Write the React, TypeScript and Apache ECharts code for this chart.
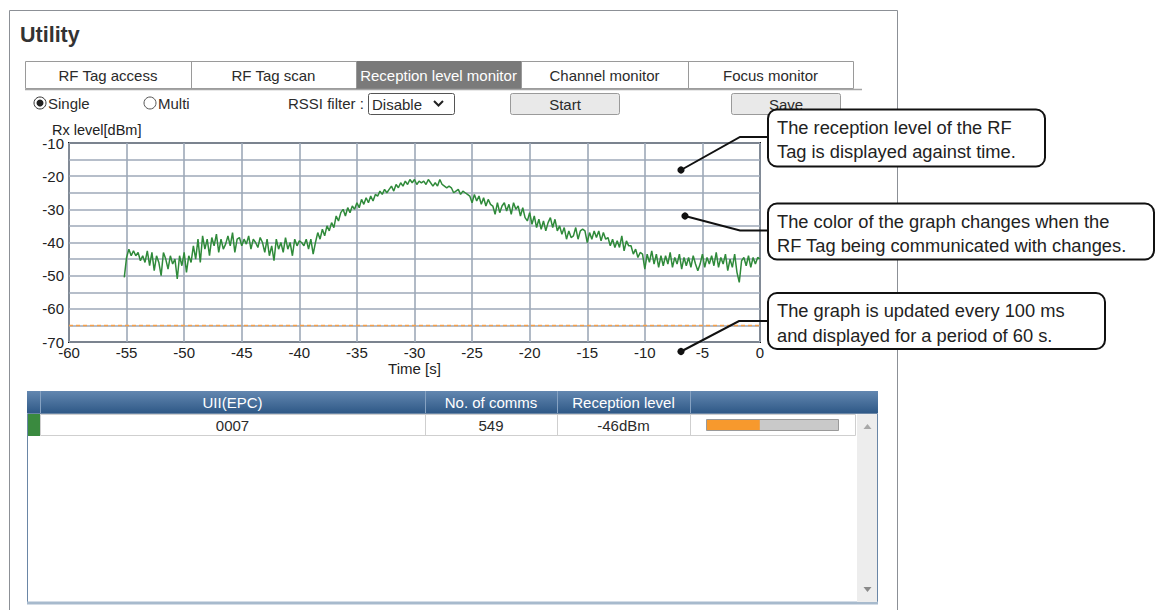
import { useEffect, useRef } from "react";
import * as echarts from "echarts";

// ---- data ----
const START_TIME = -55.2; // s, first sample
const STEP = 0.2; // s between plotted samples
const RX_LEVELS = [
  -50.5, -44.5, -42, -44, -42.5,
  -44, -43, -45.5, -44, -46,
  -42.5, -47, -43, -48.5, -44,
  -46, -50, -43, -45, -48,
  -44, -46.5, -45, -51, -44,
  -47, -43, -49, -44, -46,
  -41, -45, -39, -46, -38,
  -42, -39, -44, -38.5, -41,
  -37.5, -43, -39, -42, -40.5,
  -38, -41, -37, -43, -39,
  -38.5, -41, -39, -40.5, -38,
  -42, -39, -40, -41.5, -38.5,
  -40, -43, -39, -44, -41,
  -45.5, -39, -42, -40, -43,
  -38.5, -42, -40, -44, -39,
  -41, -39.5, -40, -41, -39,
  -42, -39, -43.5, -40, -37,
  -39, -36, -38, -35, -36.5,
  -34, -35.5, -32, -33.5, -31,
  -30, -32, -29.5, -31, -29,
  -30, -28, -29.5, -27, -28.5,
  -26.5, -28, -26, -27.5, -25.5,
  -26, -24.5, -25.5, -24, -25,
  -24, -23, -24.5, -22.5, -23.5,
  -22, -23, -21.5, -22.5, -21,
  -22, -21, -22.5, -21.5, -22,
  -21.5, -22.5, -21, -22, -23,
  -22, -23, -21, -22.5, -23,
  -23.5, -23, -23.5, -25, -24.5,
  -24, -25.5, -24.5, -25, -25.5,
  -26, -28, -25.5, -27.5, -26,
  -28.5, -26.5, -29, -27, -28.5,
  -29, -31.5, -28, -31, -29,
  -28, -30.5, -28.5, -31.5, -28,
  -30, -29, -32, -29.5, -32.5,
  -33.5, -31, -34.5, -32, -35.5,
  -33, -36, -33.5, -36.5, -34,
  -32.5, -35.5, -33, -36.5, -35,
  -37.5, -35.5, -39, -36.5, -38.5,
  -38, -35.5, -39, -36.5, -36,
  -36.5, -40, -37, -39, -36.5,
  -38.5, -36.5, -39.5, -37, -39,
  -38.5, -41, -39, -41.5, -39.5,
  -41.5, -38, -42.5, -39.5, -41,
  -41, -43.5, -42, -44.5, -43,
  -43.5, -48, -43.5, -46, -42.5,
  -46.5, -43.5, -47.5, -44, -47,
  -44, -46.5, -43, -47.5, -44.5,
  -46.5, -43.5, -48, -44.5, -47,
  -44.5, -47.5, -44, -46.5, -48.5,
  -46.5, -43.5, -47.5, -44.5, -46.5,
  -44, -47, -43, -47.5, -44.5,
  -46.5, -43.5, -48.5, -45, -47.5,
  -43.5, -49, -52, -45.5, -44.5,
  -47, -44, -47.5, -44.5, -46.5,
  -44.5, -45,
];
const THRESHOLD = -65; // dBm, dashed line
const X_MIN = -60;
const X_MAX = 0;
const Y_MIN = -70;
const Y_MAX = -10;

const TITLE = "Utility";
const Y_NAME = "Rx level[dBm]";
const X_NAME = "Time [s]";
const TABS = ["RF Tag access", "RF Tag scan", "Reception level monitor", "Channel monitor", "Focus monitor"];
const ACTIVE_TAB = 2;
const TABLE_HEADERS = ["UII(EPC)", "No. of comms", "Reception level"];
const ROW_UII = "0007";
const ROW_COMMS = 549;
const ROW_LEVEL = -46;
const CALLOUTS = [
  "The reception level of the RF\nTag is displayed against time.",
  "The color of the graph changes when the\nRF Tag being communicated with changes.",
  "The graph is updated every 100 ms\nand displayed for a period of 60 s.",
];

const FONT = 'Arial, "Liberation Sans", sans-serif';

export default function App() {
  const ref = useRef<HTMLDivElement>(null);

  useEffect(() => {
    if (!ref.current) return;
    const chart = echarts.init(ref.current, undefined, { renderer: "svg" });

    const points = RX_LEVELS.map((v, i) => [Math.round((START_TIME + i * STEP) * 10) / 10, v]);

    const txt = (text: string, x: number, y: number, extra: any = {}) => ({
      type: "text",
      x,
      y,
      z: extra.z ?? 10,
      style: {
        text,
        fill: extra.fill ?? "#2b2b2b",
        fontSize: extra.fontSize ?? 15,
        fontFamily: FONT,
        fontWeight: extra.fontWeight ?? "normal",
        align: extra.align ?? "left",
        verticalAlign: extra.verticalAlign ?? "middle",
        lineHeight: extra.lineHeight,
      },
    });

    const g: any[] = [];

    // panel
    g.push({ type: "rect", z: 1, shape: { x: 9.5, y: 10.5, width: 888, height: 700 }, style: { fill: "#fff", stroke: "#8c9096", lineWidth: 1 } });
    g.push(txt(TITLE, 20, 35, { fontSize: 21.5, fontWeight: "bold", fill: "#333" }));

    // tabs
    const tabX = [25, 191, 356, 521, 688, 853];
    g.push({ type: "rect", z: 5, shape: { x: 25.5, y: 61.5, width: 828, height: 27 }, style: { fill: "#fff", stroke: "#9a9a9a", lineWidth: 1 } });
    g.push({ type: "rect", z: 6, shape: { x: tabX[ACTIVE_TAB], y: 61, width: tabX[ACTIVE_TAB + 1] - tabX[ACTIVE_TAB], height: 28 }, style: { fill: "#7a7a7a" } });
    for (let i = 1; i < TABS.length; i++) {
      g.push({ type: "line", z: 6, shape: { x1: tabX[i] + 0.5, y1: 61, x2: tabX[i] + 0.5, y2: 88 }, style: { stroke: "#9a9a9a", lineWidth: 1 } });
    }
    TABS.forEach((t, i) => {
      g.push(txt(t, (tabX[i] + tabX[i + 1]) / 2, 75, { align: "center", fill: i === ACTIVE_TAB ? "#fff" : "#2b2b2b", fontSize: 15, z: 7 }));
    });
    g.push({ type: "line", z: 6, shape: { x1: 25, y1: 89.5, x2: 862, y2: 89.5 }, style: { stroke: "#a5a5a5", lineWidth: 1.5 } });

    // controls row
    g.push({ type: "circle", z: 6, shape: { cx: 40, cy: 103, r: 6 }, style: { fill: "#fff", stroke: "#333", lineWidth: 1 } });
    g.push({ type: "circle", z: 7, shape: { cx: 40, cy: 103, r: 3.5 }, style: { fill: "#222" } });
    g.push(txt("Single", 48, 103));
    g.push({ type: "circle", z: 6, shape: { cx: 150, cy: 103, r: 6 }, style: { fill: "#fff", stroke: "#555", lineWidth: 1 } });
    g.push(txt("Multi", 158, 103));
    g.push(txt("RSSI filter :", 288, 103));
    g.push({ type: "rect", z: 6, shape: { x: 368.5, y: 93.5, width: 86, height: 21, r: 2 }, style: { fill: "#fff", stroke: "#555", lineWidth: 1 } });
    g.push(txt("Disable", 372, 104));
    g.push({ type: "polyline", z: 7, shape: { points: [[434, 101], [438.5, 105.5], [443, 101]] }, style: { stroke: "#222", lineWidth: 2, fill: null } });
    g.push({ type: "rect", z: 6, shape: { x: 510.5, y: 93.5, width: 109, height: 21, r: 2 }, style: { fill: "#e9e9e9", stroke: "#9a9a9a", lineWidth: 1 } });
    g.push(txt("Start", 565, 104.5, { align: "center" }));
    g.push({ type: "rect", z: 6, shape: { x: 731.5, y: 93.5, width: 109, height: 21, r: 2 }, style: { fill: "#e9e9e9", stroke: "#9a9a9a", lineWidth: 1 } });
    g.push(txt("Save", 786, 104.5, { align: "center" }));

    // chart axis name (y)
    g.push(txt(Y_NAME, 52, 129.5, { fill: "#222", fontSize: 14.5, z: 30 }));

    // table
    const colX = [27, 40, 425, 557, 690, 878];
    g.push({ type: "rect", z: 5, shape: { x: 27.5, y: 413.5, width: 850, height: 189 }, style: { fill: "#fff", stroke: "#6a86a6", lineWidth: 1 } });
    g.push({ type: "line", z: 6, shape: { x1: 27, y1: 603, x2: 878, y2: 603 }, style: { stroke: "#a7bacd", lineWidth: 3 } });
    g.push({
      type: "rect", z: 6, shape: { x: 27, y: 391, width: 851, height: 22 },
      style: { fill: new echarts.graphic.LinearGradient(0, 0, 0, 1, [{ offset: 0, color: "#6387b0" }, { offset: 1, color: "#2f5987" }]) },
    });
    for (let i = 1; i < colX.length - 1; i++) {
      g.push({ type: "line", z: 7, shape: { x1: colX[i] + 0.5, y1: 391, x2: colX[i] + 0.5, y2: 413 }, style: { stroke: "#86a2c2", lineWidth: 1 } });
    }
    TABLE_HEADERS.forEach((h, i) => {
      g.push(txt(h, (colX[i + 1] + colX[i + 2]) / 2, 402.5, { align: "center", fill: "#fff", z: 8 }));
    });
    // row
    g.push({ type: "rect", z: 6, shape: { x: 28, y: 414, width: 12, height: 22 }, style: { fill: "#3a8a3f" } });
    g.push({ type: "rect", z: 6, shape: { x: 40.5, y: 414.5, width: 815, height: 21 }, style: { fill: "#fff", stroke: "#cfcfcf", lineWidth: 1 } });
    for (let i = 2; i < colX.length - 1; i++) {
      g.push({ type: "line", z: 7, shape: { x1: colX[i] + 0.5, y1: 414, x2: colX[i] + 0.5, y2: 436 }, style: { stroke: "#cfcfcf", lineWidth: 1 } });
    }
    g.push(txt(ROW_UII, (colX[1] + colX[2]) / 2, 425, { align: "center", z: 8 }));
    g.push(txt(String(ROW_COMMS), (colX[2] + colX[3]) / 2, 425, { align: "center", z: 8 }));
    g.push(txt(`${ROW_LEVEL}dBm`, (colX[3] + colX[4]) / 2, 425, { align: "center", z: 8 }));
    const barW = 132;
    const frac = (ROW_LEVEL - Y_MIN) / (Y_MAX - Y_MIN);
    g.push({ type: "rect", z: 7, shape: { x: 706.5, y: 419.5, width: barW, height: 11 }, style: { fill: "#c9c9c9", stroke: "#9a9a9a", lineWidth: 1 } });
    g.push({ type: "rect", z: 8, shape: { x: 707, y: 420, width: barW * frac, height: 10 }, style: { fill: "#f7992d" } });
    // scrollbar
    g.push({ type: "rect", z: 6, shape: { x: 857, y: 414, width: 20, height: 188 }, style: { fill: "#ededed" } });
    g.push({ type: "polygon", z: 7, shape: { points: [[863.5, 429], [867.5, 424], [871.5, 429]] }, style: { fill: "#a8a8a8" } });
    g.push({ type: "polygon", z: 7, shape: { points: [[863.5, 587], [867.5, 592], [871.5, 587]] }, style: { fill: "#8a8a8a" } });

    // callouts
    const boxes = [
      { x: 768, y: 109.5, w: 277, h: 57, dot: [681, 170], elbow: [740, 137] },
      { x: 768, y: 203.5, w: 386, h: 56, dot: [685, 216], elbow: [740, 230.5] },
      { x: 768, y: 293, w: 337, h: 56, dot: [681, 351.5], elbow: [739, 321] },
    ];
    boxes.forEach((b, i) => {
      g.push({ type: "polyline", z: 100, shape: { points: [b.dot, b.elbow, [b.x, b.elbow[1]]] }, style: { stroke: "#111", lineWidth: 2, fill: null } });
      g.push({ type: "circle", z: 101, shape: { cx: b.dot[0], cy: b.dot[1], r: 3.6 }, style: { fill: "#111" } });
      g.push({ type: "rect", z: 102, shape: { x: b.x, y: b.y, width: b.w, height: b.h, r: 9 }, style: { fill: "#fff", stroke: "#111", lineWidth: 2 } });
      g.push(txt(CALLOUTS[i], b.x + 9, b.y + 5.5, { verticalAlign: "top", fontSize: 18.3, lineHeight: 24.5, fill: "#222", z: 103 }));
    });

    chart.setOption({
      animation: false,
      backgroundColor: "#fff",
      grid: {
        left: 69, top: 143, width: 691, height: 199,
        show: true, borderColor: "#161616", borderWidth: 2, backgroundColor: "transparent", z: 20,
      },
      xAxis: {
        type: "value", min: X_MIN, max: X_MAX, interval: 5, z: 20,
        name: X_NAME, nameLocation: "middle", nameGap: 19,
        nameTextStyle: { fontSize: 15, color: "#222", fontFamily: FONT },
        axisLine: { show: false }, axisTick: { show: false },
        axisLabel: { fontSize: 15, color: "#222", margin: 3, fontFamily: FONT, showMinLabel: true, showMaxLabel: true },
        splitLine: { show: true, lineStyle: { color: "#9ea9b8", width: 1.6 } },
      },
      yAxis: {
        type: "value", min: Y_MIN, max: Y_MAX, interval: 5, z: 20,
        axisLine: { show: false }, axisTick: { show: false },
        axisLabel: {
          fontSize: 15, color: "#222", margin: 5, fontFamily: FONT,
          formatter: (v: number) => (v % 10 === 0 ? String(v) : ""),
        },
        splitLine: { show: true, lineStyle: { color: "#9ea9b8", width: 1.6 } },
      },
      graphic: { elements: g },
      series: [
        {
          type: "line", z: 21, data: [[X_MIN, THRESHOLD], [X_MAX, THRESHOLD]], showSymbol: false, symbol: "none",
          silent: true,
          lineStyle: { color: "#f5a04a", width: 1.5, type: [4, 3] },
        },
        {
          type: "line", z: 22, data: points, showSymbol: false, symbol: "none",
          lineStyle: { color: "#2f8a3a", width: 1.5 },
        },
      ],
    });
    return () => chart.dispose();
  }, []);

  return <div ref={ref} style={{ position: "absolute", left: 0, top: 0, width: 1156, height: 610 }} />;
}
